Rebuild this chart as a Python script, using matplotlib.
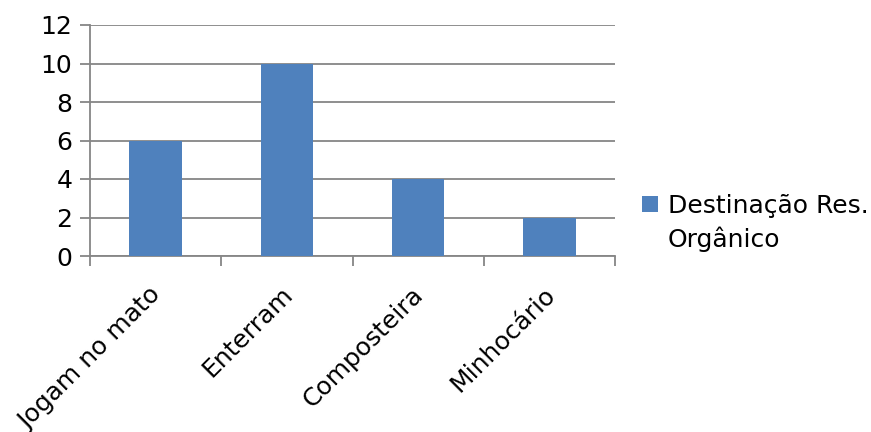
import matplotlib
matplotlib.use("Agg")
import matplotlib.pyplot as plt
from matplotlib.patches import Patch
import numpy as np

categories = ["Jogam no mato", "Enterram", "Composteira", "Minhocário"]
values = [6, 10, 4, 2]
series_name_line1 = "Destinação Res."
series_name_line2 = "Orgânico"
yticks = [0, 2, 4, 6, 8, 10, 12]

bar_color = "#4F81BD"
grid_color = "#868686"
fs = 18

plt.rcParams['font.family'] = ['DejaVu Sans']
fig = plt.figure(figsize=(8.71, 4.32), dpi=100)
ax = fig.add_axes([90/871, 1-256/432, (615-90)/871, (256-25)/432])

x = np.arange(len(categories))
ax.bar(x, values, width=0.4, color=bar_color, zorder=3)

ax.set_xlim(-0.5, len(categories) - 0.5)
ax.set_ylim(0, 12)
ax.set_yticks(yticks)
ax.set_yticklabels([str(t) for t in yticks], fontsize=fs)
ax.yaxis.grid(True, color=grid_color, linewidth=1.3, zorder=0)
ax.tick_params(axis='y', length=7.2, width=1.3, color=grid_color, pad=5.5)

ax.set_xticks(x - 0.05)
ax.set_xticklabels(categories, fontsize=fs, rotation=45, ha='right', va='top',
                   rotation_mode='anchor')
ax.tick_params(axis='x', which='major', length=0, pad=19)
ax.set_xticks(np.arange(-0.5, len(categories)), minor=True)
ax.tick_params(axis='x', which='minor', length=7.2, width=1.3, color=grid_color)

for s in ['top', 'right']:
    ax.spines[s].set_visible(False)
for s in ['left', 'bottom']:
    ax.spines[s].set_color(grid_color)
    ax.spines[s].set_linewidth(1.3)
ax.set_axisbelow(True)

handles = [Patch(facecolor=bar_color, edgecolor='none'),
           Patch(facecolor='none', edgecolor='none')]
leg = fig.legend(handles, [series_name_line1, series_name_line2],
                 loc='upper left', bbox_to_anchor=(642/871, 1-194/432),
                 frameon=False, fontsize=fs, handlelength=0.62, handleheight=0.62,
                 handletextpad=0.4, labelspacing=0.33, borderpad=0, borderaxespad=0)

fig.savefig("out.png", dpi=100)
